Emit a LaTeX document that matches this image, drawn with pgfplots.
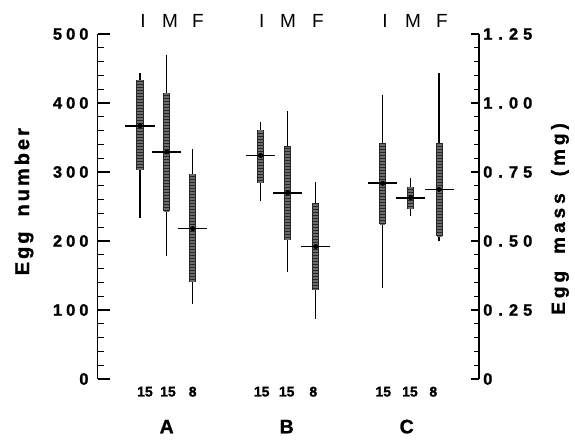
\documentclass[border=0pt]{standalone}
\usepackage{pgfplots}
\pgfplotsset{compat=1.18}
\usepackage{pgfplotstable}
\usepackage{fontspec}
\setmainfont{Liberation Sans}[BoldFeatures={FakeBold=1.2}]

% x: position in pt from the left axis, mean, range (rlo-rhi), dark bar (slo-shi)
\pgfplotstableread{
x     mean rlo rhi slo shi
42.3  367  234 444 303 434
69    329  178 469 244 415
95    218  109 334 140 297
163   324  258 373 284 361
190   270  155 388 202 337
218   192  87  286 129 255
}\eggnum

\pgfplotstableread{
x     mean  rlo  rhi   slo   shi
285   0.709 0.33 1.03  0.56  0.854
313   0.657 0.59 0.727 0.616 0.697
341.3 0.687 0.50 1.108 0.518 0.854
}\eggmass

\newcommand\plotgroup[1]{%
  \addplot[only marks, mark=none, error bars/.cd, y dir=both, y explicit, error mark=none,
    error bar style={draw=black, solid, line width=1.3pt}]
    table[x=x, y=mean, y error plus expr=\thisrow{rhi}-\thisrow{mean},
      y error minus expr=\thisrow{mean}-\thisrow{rlo}] {#1};
  \addplot[only marks, mark=none, error bars/.cd, y dir=both, y explicit, error mark=none,
    error bar style={draw=black!85, solid, line width=7pt}]
    table[x=x, y=mean, y error plus expr=\thisrow{shi}-\thisrow{mean},
      y error minus expr=\thisrow{mean}-\thisrow{slo}] {#1};
  \addplot[only marks, mark=none, error bars/.cd, y dir=both, y explicit, error mark=none,
    error bar style={draw=black!58, line width=5pt, dash pattern=on 0.6pt off 0.9pt}]
    table[x=x, y=mean, y error plus expr=\thisrow{shi}-\thisrow{mean},
      y error minus expr=\thisrow{mean}-\thisrow{slo}] {#1};
  \addplot[only marks, mark=-, mark size=14.5pt, mark options={line width=1.7pt, draw=black}]
    table[x=x, y=mean] {#1};
}

\begin{document}
\begin{tikzpicture}
\begin{axis}[
  name=main, scale only axis, width=381.3pt, height=345pt,
  xmin=0, xmax=381.3, ymin=0, ymax=500,
  hide x axis, axis y line*=left,
  ytick={0,100,...,500},
  yticklabels={0,1\kern4pt0\kern4pt0,2\kern4pt0\kern4pt0,3\kern4pt0\kern4pt0,4\kern4pt0\kern4pt0,5\kern4pt0\kern4pt0},
  minor y tick num=4, tick align=inside,
  major tick length=12pt, minor tick length=6pt,
  every tick/.style={black, line width=1.2pt},
  axis line style={line width=1.3pt},
  yticklabel style={font=\bfseries\fontsize{16.5}{16.5}\selectfont, inner sep=0pt, xshift=-9pt},
  clip=false,
]
\plotgroup{\eggnum}

\path (axis cs:-97.7,-95.7) rectangle (axis cs:477.3,549.3);

% top labels
\begin{scope}[every node/.style={font=\fontsize{19}{19}\selectfont}]
\node at (axis cs:45.3,519) {I};
\node at (axis cs:72.3,519) {M};
\node at (axis cs:100.3,519) {F};
\node at (axis cs:164,519) {I};
\node at (axis cs:190.3,519) {M};
\node at (axis cs:220.3,519) {F};
\node at (axis cs:287.3,519) {I};
\node at (axis cs:315.3,519) {M};
\node at (axis cs:344.3,519) {F};
\end{scope}

% sample sizes
\begin{scope}[every node/.style={font=\bfseries\fontsize{14}{14}\selectfont}]
\node at (axis cs:47.3,-18.4) {15};
\node at (axis cs:70.3,-18.4) {15};
\node at (axis cs:95,-18.4) {8};
\node at (axis cs:164,-18.4) {15};
\node at (axis cs:189,-18.4) {15};
\node at (axis cs:215.6,-18.4) {8};
\node at (axis cs:285.6,-18.4) {15};
\node at (axis cs:312.3,-18.4) {15};
\node at (axis cs:335.6,-18.4) {8};
\end{scope}

% group letters
\begin{scope}[every node/.style={font=\bfseries\fontsize{19.5}{19.5}\selectfont}]
\node at (axis cs:69,-69) {A};
\node at (axis cs:189,-69) {B};
\node at (axis cs:309,-69) {C};
\end{scope}

\node[rotate=90, font=\bfseries\fontsize{20}{20}\selectfont] at (axis cs:-73.7,257)
  {E\kern3pt g\kern3pt g\hspace{15pt}n\kern3pt u\kern3pt m\kern3pt b\kern3pt e\kern3pt r};
\node[rotate=90, font=\bfseries\fontsize{19}{19}\selectfont] at (axis cs:462.3,232)
  {E\kern4pt g\kern4pt g\hspace{17pt}m\kern4pt a\kern4pt s\kern4pt s\hspace{17pt}(\kern4pt m\kern4pt g\kern4pt )};
\end{axis}

\begin{axis}[
  scale only axis, width=381.3pt, height=345pt,
  xmin=0, xmax=381.3, ymin=0, ymax=1.25,
  hide x axis, axis y line*=right,
  ytick={0,0.25,...,1.25},
  yticklabels={0,0\kern6pt.\kern6pt2\kern5pt5,0\kern6pt.\kern6pt5\kern5pt0,0\kern6pt.\kern6pt7\kern5pt5,1\kern6pt.\kern6pt0\kern5pt0,1\kern6pt.\kern6pt2\kern5pt5},
  minor y tick num=4, tick align=inside,
  major tick length=8pt, minor tick length=5pt,
  every tick/.style={black, line width=1.2pt},
  axis line style={line width=1.3pt},
  yticklabel style={font=\bfseries\fontsize{16.5}{16.5}\selectfont, inner sep=0pt, xshift=4pt},
  clip=false,
]
\plotgroup{\eggmass}
\end{axis}
\end{tikzpicture}
\end{document}
